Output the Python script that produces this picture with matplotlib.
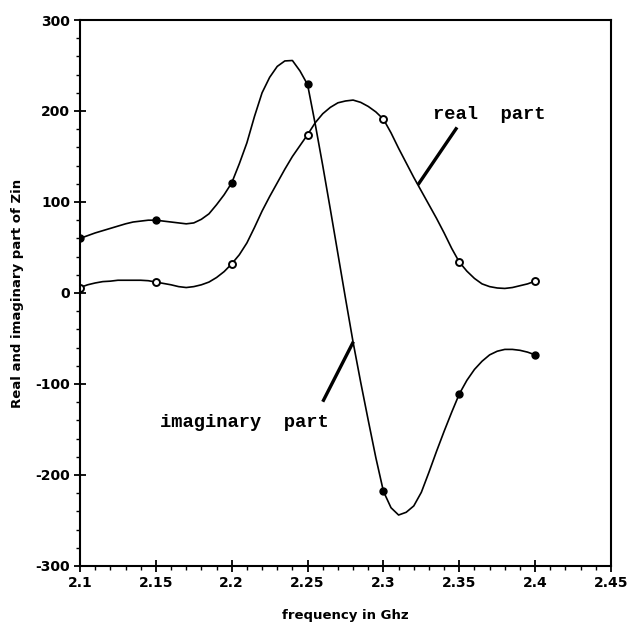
import matplotlib
matplotlib.use("Agg")
import matplotlib.pyplot as plt
from matplotlib.ticker import MultipleLocator

plt.rcParams['axes.unicode_minus'] = False

# measured points (markers)
freq_pts = [2.1, 2.15, 2.2, 2.25, 2.3, 2.35, 2.4]
real_pts = [6, 12, 32, 174, 191, 34, 13]
imag_pts = [60, 80, 121, 230, -218, -111, -68]

# smooth curves, every 0.005 GHz from 2.1 to 2.4
curve_f = [2.100, 2.105, 2.110, 2.115, 2.120, 2.125, 2.130, 2.135, 2.140, 2.145,
           2.150, 2.155, 2.160, 2.165, 2.170, 2.175, 2.180, 2.185, 2.190, 2.195,
           2.200, 2.205, 2.210, 2.215, 2.220, 2.225, 2.230, 2.235, 2.240, 2.245,
           2.250, 2.255, 2.260, 2.265, 2.270, 2.275, 2.280, 2.285, 2.290, 2.295,
           2.300, 2.305, 2.310, 2.315, 2.320, 2.325, 2.330, 2.335, 2.340, 2.345,
           2.350, 2.355, 2.360, 2.365, 2.370, 2.375, 2.380, 2.385, 2.390, 2.395,
           2.400]
real_v = [6, 9, 11, 12.5, 13, 14, 14, 14, 14, 13.5,
          12, 10.5, 9, 7, 6, 7, 9, 12, 17, 23.5,
          32, 42, 55, 72, 90, 106, 121, 136, 150, 162,
          174, 187, 197, 204, 209, 211, 212, 209.5, 205, 199,
          191, 176, 159, 143, 127, 112, 97, 82, 66, 49,
          34, 24, 16, 10, 7, 5.5, 5, 6, 8, 10,
          13]
imag_v = [60, 63, 66, 68.5, 71, 73.5, 76, 78, 79, 80,
          80, 79, 78, 77, 76, 77, 81, 87, 97, 108,
          121, 142, 165, 194, 220, 237, 249, 255, 255.5, 244,
          229, 186, 140, 92, 43, -6, -54, -98, -140, -181,
          -218, -236, -244, -241, -234, -219, -197, -174, -152, -131,
          -111, -96, -84, -75, -68, -64, -62, -62, -63, -65,
          -68]

xticks = [2.1, 2.15, 2.2, 2.25, 2.3, 2.35, 2.4, 2.45]
xtick_labels = ["2.1", "2.15", "2.2", "2.25", "2.3", "2.35", "2.4", "2.45"]
yticks = [-300, -200, -100, 0, 100, 200, 300]

fig = plt.figure(figsize=(6.31, 6.29), dpi=100)
ax = fig.add_axes([0.1268, 0.1002, 0.8415, 0.868])

ax.plot(curve_f, real_v, color='black', linewidth=1.2)
ax.plot(curve_f, imag_v, color='black', linewidth=1.2)
ax.plot(freq_pts, real_pts, linestyle='none', marker='o', markersize=5,
        markerfacecolor='white', markeredgecolor='black', markeredgewidth=1.4)
ax.plot(freq_pts, imag_pts, linestyle='none', marker='o', markersize=5,
        markerfacecolor='black', markeredgecolor='black')

# annotation pointers
ax.plot([2.3485, 2.3228], [182, 119], color='black', linewidth=2.4,
        solid_capstyle='butt')
ax.plot([2.26, 2.2802], [-119.5, -53.5], color='black', linewidth=2.4,
        solid_capstyle='butt')
ax.text(2.3327, 196, "real  part", family='Liberation Mono', fontweight='bold',
        fontsize=13.5, va='center', ha='left')
ax.text(2.1527, -142, "imaginary  part", family='Liberation Mono',
        fontweight='bold', fontsize=13.5, va='center', ha='left')

ax.set_xlim(2.1, 2.45)
ax.set_ylim(-300, 300)
ax.set_xticks(xticks)
ax.set_xticklabels(xtick_labels)
ax.set_yticks(yticks)
ax.xaxis.set_minor_locator(MultipleLocator(0.01))
ax.yaxis.set_minor_locator(MultipleLocator(20))
ax.tick_params(which='major', direction='inout', length=8, width=1.3,
               labelsize=10, pad=3)
ax.tick_params(which='minor', direction='out', length=3, width=1.0)
for lab in ax.get_xticklabels() + ax.get_yticklabels():
    lab.set_fontweight('bold')

for sp in ax.spines.values():
    sp.set_linewidth(1.5)

ax.set_xlabel("frequency in Ghz", fontsize=9.5, fontweight='bold', labelpad=14)
ax.set_ylabel("Real and imaginary part of Zin", fontsize=9.5, fontweight='bold',
              labelpad=8)

fig.savefig("out.png", dpi=100)
